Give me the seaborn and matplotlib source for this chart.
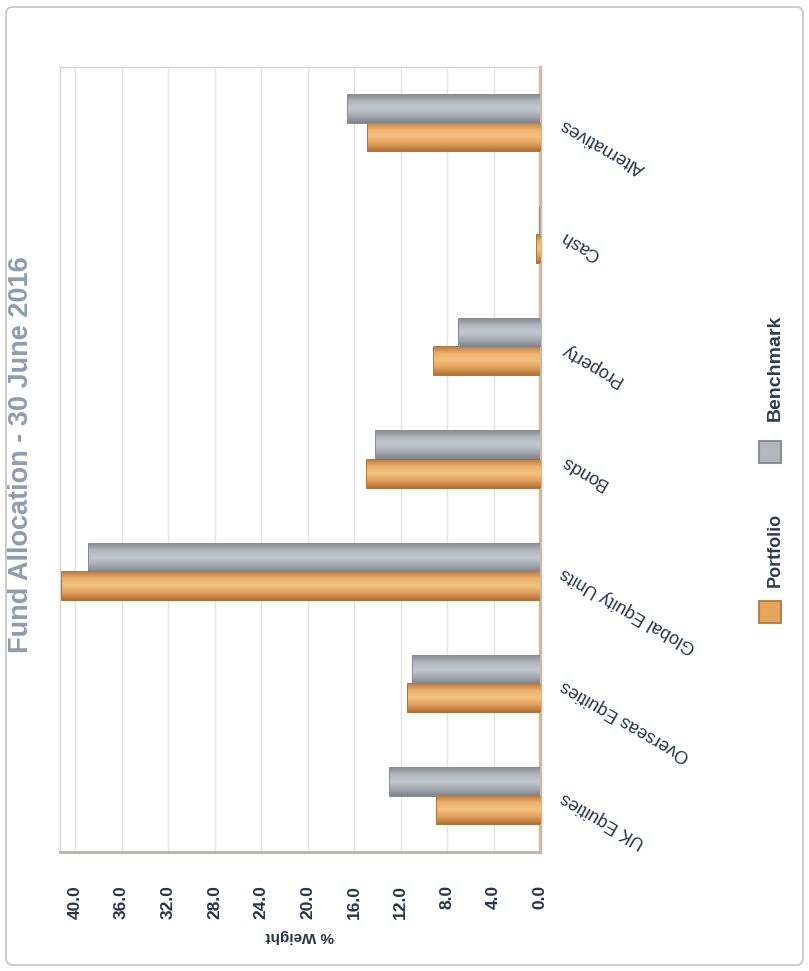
import numpy as np
import pandas as pd
import matplotlib
matplotlib.use("Agg")
import matplotlib.pyplot as plt
from matplotlib.patches import Rectangle, FancyBboxPatch
from matplotlib.colors import LinearSegmentedColormap
import seaborn as sns

# Asset classes, listed top to bottom
categories = ["Alternatives", "Cash", "Property", "Bonds",
              "Global Equity Units", "Overseas Equities", "UK Equities"]
portfolio = [14.8, 0.3, 9.1, 14.9, 41.1, 11.4, 8.9]
benchmark = [16.5, 0.0, 7.0, 14.1, 38.8, 10.9, 12.9]
series = ["Benchmark", "Portfolio"]
ticks = [0, 4, 8, 12, 16, 20, 24, 28, 32, 36, 40]
title = "Fund Allocation - 30 June 2016"

df = pd.DataFrame({
    "category": categories * 2,
    "series": ["Portfolio"] * len(categories) + ["Benchmark"] * len(categories),
    "value": portfolio + benchmark,
})

sns.set_theme(style="white")
plt.rcParams["font.family"] = ["Liberation Sans", "DejaVu Sans"]

W, H = 809, 971
fig = plt.figure(figsize=(W / 100, H / 100), dpi=100)
fig.patch.set_facecolor("white")

# outer frame around the whole chart
fig.patches.append(FancyBboxPatch((6 / W, 6 / H), 797 / W, 958 / H,
                                  boxstyle="round,pad=0,rounding_size=0.008",
                                  transform=fig.transFigure, fill=False,
                                  edgecolor="#c4c4c4", linewidth=1.2))

ax = fig.add_axes([60 / W, 119 / H, 480 / W, 785 / H])
ax.set_facecolor("white")

orange = "#E7A45E"
grey = "#A7ACB4"
sns.barplot(data=df, x="value", y="category", hue="series",
            order=categories, hue_order=series, orient="h", width=0.5,
            palette={"Portfolio": orange, "Benchmark": grey},
            edgecolor="none", saturation=1, legend=False, ax=ax, zorder=3)

# cylinder-like shading across each bar
shades = {
    "Portfolio": (["#B97A3A", "#EDB06B", "#F3C17F", "#E2A05A", "#B07035"], "#A8682E"),
    "Benchmark": (["#868B93", "#B3B7BE", "#C4C8CE", "#A6ABB2", "#7F848C"], "#7C8189"),
}
for container, name in zip(ax.containers, series):
    cmap = LinearSegmentedColormap.from_list(name, shades[name][0])
    for bar in container:
        x0, y0 = bar.get_x(), bar.get_y()
        w, h = bar.get_width(), bar.get_height()
        bar.set_edgecolor(shades[name][1])
        bar.set_linewidth(1.3)
        if w <= 0:
            continue
        grad = np.linspace(0, 1, 64).reshape(-1, 1)
        im = ax.imshow(grad, cmap=cmap, aspect="auto", origin="upper",
                       extent=(x0, x0 + w, y0 + h, y0), zorder=3.5,
                       interpolation="bilinear")
        im.set_clip_path(bar)
ax.set_aspect("auto")

ax.set_xlim(41.3, 0)
ax.set_ylim(len(categories) - 0.5, -0.5)

# value axis
ax.set_xticks(ticks)
ax.set_xticklabels([f"{t:.1f}" for t in ticks], rotation=90,
                   fontsize=12.5, fontweight="bold", color="#24364a")
ax.tick_params(axis="x", length=0, pad=24)
ax.grid(axis="x", color="#e3e3e3", linewidth=1, zorder=0)
ax.set_xlabel("% Weight", rotation=180, fontsize=11, fontweight="bold",
              color="#24364a", labelpad=7)

# category labels on the right side
ax.yaxis.tick_right()
ax.set_ylabel("")
ax.tick_params(axis="y", length=0, pad=16)
for lab in ax.get_yticklabels():
    lab.set_rotation(150)
    lab.set_ha("right")
    lab.set_va("center")
    lab.set_rotation_mode("anchor")
    lab.set_fontsize(13)
    lab.set_color("#24364a")

for side in ["top", "left"]:
    ax.spines[side].set_color("#d6d6d6")
    ax.spines[side].set_linewidth(1)
ax.spines["bottom"].set_color("#bdb3a6")
ax.spines["bottom"].set_linewidth(2)
ax.spines["right"].set_color("#cbbba3")
ax.spines["right"].set_linewidth(2.5)
ax.spines["right"].set_linestyle((0, (2, 1)))

# title
fig.text(21 / W, 1 - 455 / H, title, rotation=90, ha="center", va="center",
         fontsize=19.5, fontweight="bold", color="#8E9CB3")

# legend
for name, color, ec, sq_y, txt_y, fs in [
        ("Portfolio", orange, "#B5824A", 612, 550, 13),
        ("Benchmark", "#B4B8BE", "#8C9096", 452, 368, 14)]:
    fig.patches.append(Rectangle(((770 - 11) / W, 1 - (sq_y + 11) / H), 22 / W, 22 / H,
                                 transform=fig.transFigure, facecolor=color,
                                 edgecolor=ec, linewidth=1.5))
    fig.text(775 / W, 1 - txt_y / H, name, rotation=90, ha="center", va="center",
             fontsize=fs, fontweight="bold", color="#2a3d52")

fig.savefig("out.png", dpi=100, facecolor="white")
